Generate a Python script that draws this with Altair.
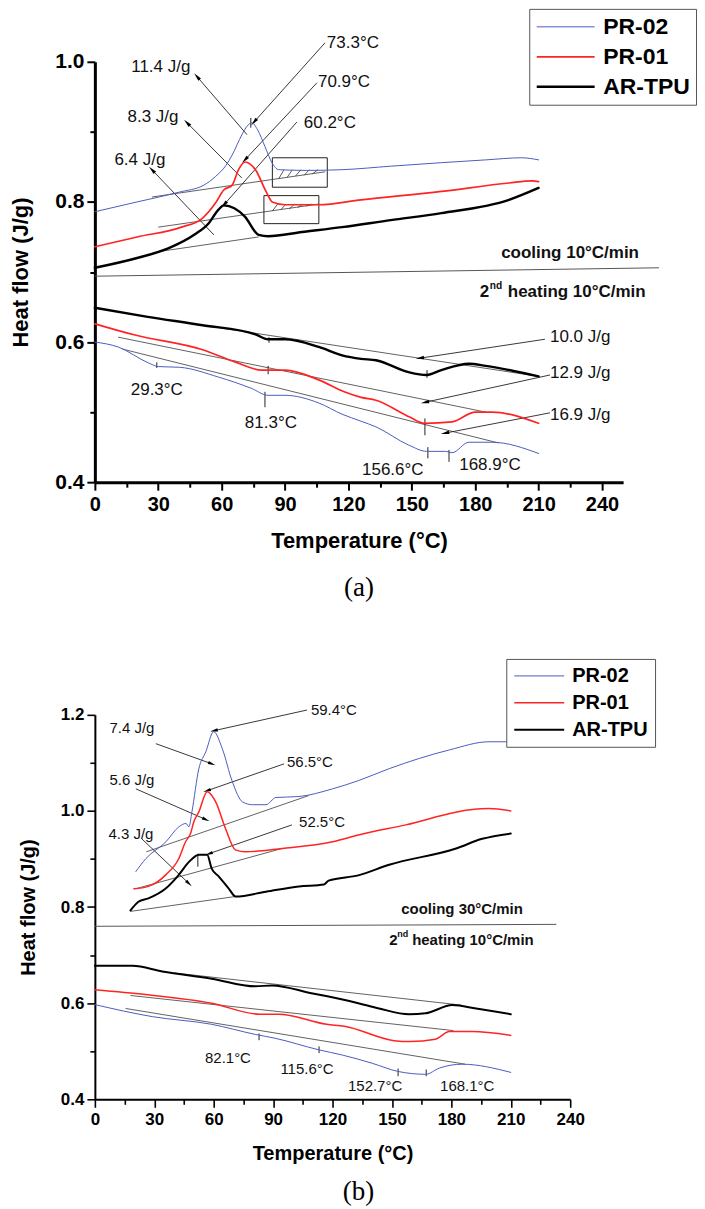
import math
import altair as alt
import pandas as pd

SERIES = ["PR-02", "PR-01", "AR-TPU"]
SERIES_COLORS = ["#4a5cc0", "#ff2424", "#000000"]

# ---------------- panel (a) ----------------
A_COOL_PR02_T = [0, 20, 40, 51.6, 57, 62, 65, 69.6, 72, 74.3, 77, 80.5, 83.8, 87, 100, 117, 140, 164, 185, 202, 210]
A_COOL_PR02_V = [0.786, 0.800, 0.814, 0.824, 0.836, 0.852, 0.867, 0.896, 0.908, 0.913, 0.903, 0.879, 0.856, 0.846, 0.845, 0.846, 0.851, 0.856, 0.860, 0.863, 0.860]
A_COOL_PR01_T = [0, 20, 41, 51, 57, 61, 65, 68, 71, 73.5, 76, 81, 84, 90, 106, 126, 164, 196, 207, 210]
A_COOL_PR01_V = [0.736, 0.750, 0.764, 0.777, 0.798, 0.817, 0.824, 0.846, 0.857, 0.854, 0.846, 0.815, 0.800, 0.796, 0.796, 0.803, 0.815, 0.827, 0.830, 0.829]
A_COOL_AR_T = [0, 20, 35, 47, 54, 58.5, 61, 66, 71, 77.5, 82, 98, 117, 140, 164, 196, 210]
A_COOL_AR_V = [0.706, 0.720, 0.734, 0.753, 0.770, 0.789, 0.795, 0.791, 0.779, 0.753, 0.751, 0.757, 0.764, 0.774, 0.784, 0.803, 0.820]
A_HEAT_PR02_T = [0, 11, 25.5, 30, 40, 58.5, 74, 82, 90, 106, 117, 126, 133, 148.5, 157, 166, 169, 177, 188, 210]
A_HEAT_PR02_V = [0.600, 0.593, 0.570, 0.565, 0.564, 0.550, 0.534, 0.524, 0.524, 0.513, 0.497, 0.487, 0.479, 0.453, 0.444, 0.444, 0.442, 0.457, 0.457, 0.441]
A_HEAT_PR01_T = [0, 19, 51, 66, 79, 90, 106, 118, 126, 133, 149, 156, 169, 180, 188, 210]
A_HEAT_PR01_V = [0.626, 0.610, 0.589, 0.572, 0.560, 0.560, 0.546, 0.529, 0.521, 0.517, 0.493, 0.484, 0.486, 0.500, 0.500, 0.484]
A_HEAT_AR_T = [0, 25, 51, 76, 82, 90, 106, 117, 126, 133, 148.5, 157, 164, 177, 185, 210]
A_HEAT_AR_V = [0.649, 0.636, 0.624, 0.611, 0.604, 0.604, 0.593, 0.581, 0.576, 0.574, 0.557, 0.553, 0.560, 0.569, 0.566, 0.551]

A_BASE_T1 = [27, 30, 30, 51, 11, 13]
A_BASE_V1 = [0.807, 0.764, 0.729, 0.624, 0.607, 0.590]
A_BASE_T2 = [109, 106, 77.5, 210, 185, 191]
A_BASE_V2 = [0.843, 0.797, 0.750, 0.551, 0.500, 0.456]

A_ARROW_T1 = [108.9, 105.1, 95.6, 72.0, 69.6, 56.3, 213.0, 215.4, 215.4]
A_ARROW_V1 = [1.027, 0.970, 0.914, 0.896, 0.834, 0.753, 0.604, 0.553, 0.499]
A_ARROW_T2 = [75.3, 71.0, 61.1, 48.3, 43.6, 27.0, 153.8, 156.2, 165.7]
A_ARROW_V2 = [0.914, 0.860, 0.796, 0.979, 0.913, 0.846, 0.577, 0.514, 0.470]

A_NOTE_C_TEXT = ["11.4 J/g", "8.3 J/g", "6.4 J/g", "29.3°C", "81.3°C", "156.6°C", "168.9°C"]
A_NOTE_C_T = [31.2, 27.5, 21.3, 29.3, 83.3, 141.0, 187.0]
A_NOTE_C_V = [0.993, 0.921, 0.860, 0.531, 0.484, 0.417, 0.424]
A_NOTE_L_TEXT = ["73.3°C", "70.9°C", "60.2°C", "10.0 J/g", "12.9 J/g", "16.9 J/g"]
A_NOTE_L_T = [109.8, 105.6, 98.9, 215.4, 215.4, 215.4]
A_NOTE_L_V = [1.027, 0.971, 0.913, 0.607, 0.556, 0.496]

A_TICK_T = [73.8, 29.3, 80.5, 82.4, 82.0, 157.6, 167.6, 157.2, 156.2]
A_TICK_V1 = [0.920, 0.571, 0.529, 0.607, 0.566, 0.450, 0.446, 0.560, 0.491]
A_TICK_V2 = [0.906, 0.563, 0.507, 0.599, 0.554, 0.434, 0.429, 0.549, 0.467]

A_BOX_T1 = [84, 80]
A_BOX_T2 = [110, 106]
A_BOX_V1 = [0.821, 0.769]
A_BOX_V2 = [0.863, 0.809]
A_HATCH_T1 = [87, 91, 95, 99, 103, 84, 88, 92, 96, 100]
A_HATCH_V1 = [0.833, 0.835, 0.837, 0.838, 0.840, 0.787, 0.789, 0.790, 0.792, 0.794]
A_HATCH_T2 = [89.5, 93.5, 97.5, 101.5, 105.5, 86.5, 90.5, 94.5, 98.5, 102.5]
A_HATCH_V2 = [0.846, 0.846, 0.846, 0.846, 0.846, 0.797, 0.797, 0.797, 0.797, 0.797]

A_SEP = [0, 0.694, 267, 0.706]
A_PHASE = {"cool": "cooling 10°C/min", "cool_t": 224.9, "cool_v": 0.727,
           "heat": "heating 10°C/min", "heat_t": 182.2, "heat_v": 0.671}

# ---------------- panel (b) ----------------
B_COOL_PR02_T = [20.7, 25.8, 35.9, 42.4, 46, 47.5, 49, 52.5, 56, 60, 64.3, 69.4, 74.5, 79.5, 86.4, 91.4, 103, 120, 133, 148.6, 179, 199, 210]
B_COOL_PR02_V = [0.874, 0.901, 0.936, 0.967, 0.974, 0.967, 0.998, 1.088, 1.123, 1.165, 1.130, 1.061, 1.019, 1.013, 1.013, 1.028, 1.030, 1.046, 1.063, 1.088, 1.127, 1.144, 1.144]
B_COOL_PR01_T = [19.7, 27, 35.8, 42.4, 45.8, 48.3, 50, 52.5, 56.7, 61, 66, 71, 76, 94.6, 120, 133, 157, 190.5, 199, 210]
B_COOL_PR01_V = [0.838, 0.843, 0.867, 0.901, 0.936, 0.953, 0.978, 0.998, 1.040, 1.019, 0.963, 0.919, 0.915, 0.922, 0.936, 0.950, 0.971, 1.003, 1.005, 1.000]
B_COOL_AR_T = [18, 22, 27, 35.6, 42.4, 47.5, 52.5, 56.7, 59, 62.7, 67.7, 71, 86.4, 103, 115.7, 118, 133, 148.6, 182.4, 195.6, 210]
B_COOL_AR_V = [0.793, 0.811, 0.818, 0.838, 0.867, 0.894, 0.909, 0.909, 0.880, 0.863, 0.838, 0.822, 0.832, 0.843, 0.847, 0.855, 0.866, 0.888, 0.922, 0.942, 0.953]
B_HEAT_PR02_T = [0, 29, 59, 81, 91, 113, 125, 140, 153, 167, 174, 185.5, 210]
B_HEAT_PR02_V = [0.597, 0.572, 0.556, 0.535, 0.527, 0.503, 0.492, 0.475, 0.458, 0.452, 0.465, 0.473, 0.456]
B_HEAT_PR01_T = [0, 25.6, 59, 83, 93, 117, 126, 151, 159, 172, 179, 190.6, 210]
B_HEAT_PR01_V = [0.628, 0.618, 0.600, 0.577, 0.577, 0.556, 0.552, 0.522, 0.520, 0.525, 0.541, 0.541, 0.533]
B_HEAT_AR_T = [0, 19, 34, 59, 81, 89.5, 110, 118, 133, 143.5, 158.7, 167, 180.5, 192.5, 210]
B_HEAT_AR_V = [0.678, 0.678, 0.666, 0.651, 0.635, 0.637, 0.620, 0.614, 0.600, 0.589, 0.577, 0.579, 0.596, 0.589, 0.577]

B_BASE_T1 = [26, 20.5, 18, 40, 18, 15.5]
B_BASE_V1 = [0.915, 0.838, 0.791, 0.663, 0.616, 0.589]
B_BASE_T2 = [108, 94.6, 71, 185, 181, 187]
B_BASE_V2 = [1.032, 0.922, 0.822, 0.596, 0.543, 0.473]

B_ARROW_T1 = [107.1, 95.5, 99.5, 30.8, 20.7, 23.7]
B_ARROW_V1 = [1.210, 1.098, 0.971, 1.140, 1.046, 0.942]
B_ARROW_T2 = [60.1, 56.6, 57.6, 59.1, 56.1, 47.5]
B_ARROW_V2 = [1.167, 1.042, 0.911, 1.098, 0.982, 0.849]

B_NOTE_C_TEXT = ["7.4 J/g", "5.6 J/g", "4.3 J/g", "82.1°C", "115.6°C", "152.7°C", "168.1°C"]
B_NOTE_C_T = [18.7, 18.7, 18.2, 67.2, 107.1, 141.5, 188.0]
B_NOTE_C_V = [1.173, 1.065, 0.953, 0.485, 0.462, 0.427, 0.427]
B_NOTE_L_TEXT = ["59.4°C", "56.5°C", "52.5°C"]
B_NOTE_L_T = [109.1, 97.0, 103.1]
B_NOTE_L_V = [1.210, 1.102, 0.978]

B_TICK_T = [52.0, 82.9, 113.2, 153.1, 167.3]
B_TICK_V1 = [0.911, 0.537, 0.510, 0.464, 0.462]
B_TICK_V2 = [0.884, 0.523, 0.496, 0.448, 0.448]

B_SEP = [0, 0.760, 233, 0.764]
B_PHASE = {"cool": "cooling 30°C/min", "cool_t": 185.4, "cool_v": 0.795,
           "heat": "heating 10°C/min", "heat_t": 148.6, "heat_v": 0.732}


def curve_frame(parts):
    rows = []
    for series, seg, ts, vs in parts:
        for t, v in zip(ts, vs):
            rows.append({"series": series, "seg": series + "-" + seg, "t": t, "v": v})
    return pd.DataFrame(rows)


def seg_frame(t1, v1, t2, v2):
    return pd.DataFrame({"t1": t1, "v1": v1, "t2": t2, "v2": v2})


ARROW_PATH = "M0,-1L0.42,1L-0.42,1Z"


def panel(p):
    xs = alt.Scale(domain=p["xdom"], nice=False, zero=False)
    ys = alt.Scale(domain=p["ydom"], nice=False, zero=False)
    kx = p["width"] / (p["xdom"][1] - p["xdom"][0])
    ky = p["height"] / (p["ydom"][1] - p["ydom"][0])
    xaxis = alt.Axis(
        title="Temperature (°C)", values=p["xvals"],
        labelExpr="datum.value % 30 === 0 ? datum.label : ''",
        tickSize={"condition": {"test": "datum.value % 30 === 0", "value": p["tick"]}, "value": p["minor"]},
        tickColor="black", tickWidth=p["tickw"], domainColor="black", domainWidth=p["domw"],
        labelFont="Liberation Sans", labelFontSize=p["xlab"], labelFontWeight="bold", labelColor="black",
        labelPadding=p["xlabpad"], labelOverlap=False, labelFlush=False, grid=False,
        titleFont="Liberation Sans", titleFontSize=p["titlesize"], titleFontWeight="bold",
        titleColor="black", titlePadding=p["xtitlepad"])
    yaxis = alt.Axis(
        title="Heat flow (J/g)", values=p["yvals"], format=".1f",
        labelExpr="round(datum.value * 10) % 2 === 0 ? format(datum.value, '.1f') : ''",
        tickSize={"condition": {"test": "round(datum.value * 10) % 2 === 0", "value": p["tick"]}, "value": p["minor"]},
        tickColor="black", tickWidth=p["tickw"], domainColor="black", domainWidth=p["domw"],
        labelFont="Liberation Sans", labelFontSize=p["ylab"], labelFontWeight="bold", labelColor="black",
        labelPadding=p["ylabpad"], labelOverlap=False, labelFlush=False, grid=False,
        titleFont="Liberation Sans", titleFontSize=p["titlesize"], titleFontWeight="bold",
        titleColor="black", titlePadding=p["ytitlepad"])

    def X(f):
        return alt.X(f + ":Q", scale=xs, axis=xaxis)

    def Y(f):
        return alt.Y(f + ":Q", scale=ys, axis=yaxis)

    leg = alt.Legend(
        title=None, orient="none", legendX=p["legx"], legendY=p["legy"], direction="vertical",
        symbolType="stroke", symbolSize=p["symsize"], labelFont="Liberation Sans",
        labelFontSize=p["legfont"], labelFontWeight="bold", labelColor="black",
        labelOffset=p["legoff"], padding=p["legpad"], strokeColor="#555555", fillColor="white",
        rowPadding=p["legrowpad"], clipHeight=p["legclip"])

    lines = alt.Chart(p["curves"]).mark_line(interpolate="monotone", strokeCap="round", strokeJoin="round").encode(
        x=X("t"), y=Y("v"),
        color=alt.Color("series:N", scale=alt.Scale(domain=SERIES, range=SERIES_COLORS), legend=leg),
        strokeWidth=alt.StrokeWidth("series:N", scale=alt.Scale(domain=SERIES, range=p["widths"]), legend=leg),
        detail="seg:N")

    thin = "#3a3a3a"
    base = alt.Chart(p["base"]).mark_rule(color=thin, strokeWidth=0.8).encode(
        x=X("t1"), y=Y("v1"), x2="t2:Q", y2="v2:Q")

    arr = p["arrows"].copy()
    arr["ang"] = [
        (math.degrees(math.atan2((b - a) * kx, (d - c) * ky)) + 360) % 360
        for a, b, c, d in zip(arr["t1"], arr["t2"], arr["v1"], arr["v2"])]
    shafts = alt.Chart(arr).mark_rule(color="#222222", strokeWidth=0.9).encode(
        x=X("t1"), y=Y("v1"), x2="t2:Q", y2="v2:Q")
    heads = alt.Chart(arr).mark_point(shape=ARROW_PATH, filled=True, color="black", opacity=1, size=p["headsize"]).encode(
        x=X("t2"), y=Y("v2"), angle=alt.Angle("ang:Q", scale=None))

    ticks = alt.Chart(p["ticks"]).mark_rule(color="#222222", strokeWidth=1).encode(
        x=X("t"), y=Y("v1"), y2="v2:Q")

    notes_c = alt.Chart(p["notes_c"]).mark_text(
        align="center", baseline="middle", font="Liberation Sans", fontSize=p["notesize"], color="#111111").encode(
        x=X("t"), y=Y("v"), text="txt:N")
    notes_l = alt.Chart(p["notes_l"]).mark_text(
        align="left", baseline="middle", font="Liberation Sans", fontSize=p["notesize"], color="#111111").encode(
        x=X("t"), y=Y("v"), text="txt:N")

    sep = alt.Chart(p["sep"]).mark_rule(color="#555555", strokeWidth=1).encode(
        x=X("t1"), y=Y("v1"), x2="t2:Q", y2="v2:Q")

    ph = p["phase"]
    pf = p["phasesize"]
    cool = alt.Chart(pd.DataFrame({"t": [ph["cool_t"]], "v": [ph["cool_v"]], "txt": [ph["cool"]]})).mark_text(
        align="center", baseline="middle", font="Liberation Sans", fontSize=pf, fontWeight="bold", color="#111111").encode(
        x=X("t"), y=Y("v"), text="txt:N")
    heat_df = pd.DataFrame({"t": [ph["heat_t"]], "v": [ph["heat_v"]]})
    two = alt.Chart(heat_df).mark_text(
        align="left", baseline="middle", font="Liberation Sans", fontSize=pf, fontWeight="bold", color="#111111",
        text="2").encode(x=X("t"), y=Y("v"))
    nd = alt.Chart(heat_df).mark_text(
        align="left", baseline="middle", font="Liberation Sans", fontSize=pf * 0.6, fontWeight="bold", color="#111111",
        text="nd", dx=p["nddx"], dy=-pf * 0.38).encode(x=X("t"), y=Y("v"))
    heat = alt.Chart(heat_df).mark_text(
        align="left", baseline="middle", font="Liberation Sans", fontSize=pf, fontWeight="bold", color="#111111",
        text=ph["heat"], dx=p["heatdx"]).encode(x=X("t"), y=Y("v"))

    layers = [base, sep, shafts, heads, ticks, lines, notes_c, notes_l, cool, two, nd, heat]
    if p.get("boxes") is not None:
        boxes = alt.Chart(p["boxes"]).mark_rect(fill=None, stroke="#222222", strokeWidth=1).encode(
            x=X("t1"), x2="t2:Q", y=Y("v1"), y2="v2:Q")
        hatch = alt.Chart(p["hatch"]).mark_rule(color="#333333", strokeWidth=0.8).encode(
            x=X("t1"), y=Y("v1"), x2="t2:Q", y2="v2:Q")
        layers = [boxes, hatch] + layers

    return alt.layer(*layers).properties(
        width=p["width"], height=p["height"],
        title=alt.TitleParams(p["label"], orient="bottom", font="Liberation Serif", fontSize=p["labsize"],
                              fontWeight="normal", color="black", offset=p["laboff"], dx=p["labdx"]))


A = dict(
    curves=curve_frame([
        ("PR-02", "cool", A_COOL_PR02_T, A_COOL_PR02_V), ("PR-01", "cool", A_COOL_PR01_T, A_COOL_PR01_V),
        ("AR-TPU", "cool", A_COOL_AR_T, A_COOL_AR_V), ("PR-02", "heat", A_HEAT_PR02_T, A_HEAT_PR02_V),
        ("PR-01", "heat", A_HEAT_PR01_T, A_HEAT_PR01_V), ("AR-TPU", "heat", A_HEAT_AR_T, A_HEAT_AR_V)]),
    base=seg_frame(A_BASE_T1, A_BASE_V1, A_BASE_T2, A_BASE_V2),
    arrows=seg_frame(A_ARROW_T1, A_ARROW_V1, A_ARROW_T2, A_ARROW_V2),
    notes_c=pd.DataFrame({"txt": A_NOTE_C_TEXT, "t": A_NOTE_C_T, "v": A_NOTE_C_V}),
    notes_l=pd.DataFrame({"txt": A_NOTE_L_TEXT, "t": A_NOTE_L_T, "v": A_NOTE_L_V}),
    ticks=pd.DataFrame({"t": A_TICK_T, "v1": A_TICK_V1, "v2": A_TICK_V2}),
    boxes=seg_frame(A_BOX_T1, A_BOX_V1, A_BOX_T2, A_BOX_V2),
    hatch=seg_frame(A_HATCH_T1, A_HATCH_V1, A_HATCH_T2, A_HATCH_V2),
    sep=seg_frame([A_SEP[0]], [A_SEP[1]], [A_SEP[2]], [A_SEP[3]]),
    phase=A_PHASE,
    xdom=[0, 250], ydom=[0.4, 1.0], xvals=list(range(0, 241, 15)),
    yvals=[0.4, 0.5, 0.6, 0.7, 0.8, 0.9, 1.0],
    width=529, height=421, widths=[1.0, 2.4, 3.3],
    tick=8, minor=5, tickw=2, domw=3, xlab=20, ylab=21, xlabpad=4, ylabpad=3, titlesize=22,
    xtitlepad=16, ytitlepad=22,
    legx=435, legy=-53, symsize=3364, legfont=23, legoff=7, legpad=6, legrowpad=6, legclip=24,
    headsize=70, notesize=17, phasesize=17, nddx=10, heatdx=28,
    label="(a)", labsize=27, laboff=24, labdx=0,
)

B = dict(
    curves=curve_frame([
        ("PR-02", "cool", B_COOL_PR02_T, B_COOL_PR02_V), ("PR-01", "cool", B_COOL_PR01_T, B_COOL_PR01_V),
        ("AR-TPU", "cool", B_COOL_AR_T, B_COOL_AR_V), ("PR-02", "heat", B_HEAT_PR02_T, B_HEAT_PR02_V),
        ("PR-01", "heat", B_HEAT_PR01_T, B_HEAT_PR01_V), ("AR-TPU", "heat", B_HEAT_AR_T, B_HEAT_AR_V)]),
    base=seg_frame(B_BASE_T1, B_BASE_V1, B_BASE_T2, B_BASE_V2),
    arrows=seg_frame(B_ARROW_T1, B_ARROW_V1, B_ARROW_T2, B_ARROW_V2),
    notes_c=pd.DataFrame({"txt": B_NOTE_C_TEXT, "t": B_NOTE_C_T, "v": B_NOTE_C_V}),
    notes_l=pd.DataFrame({"txt": B_NOTE_L_TEXT, "t": B_NOTE_L_T, "v": B_NOTE_L_V}),
    ticks=pd.DataFrame({"t": B_TICK_T, "v1": B_TICK_V1, "v2": B_TICK_V2}),
    boxes=None, hatch=None,
    sep=seg_frame([B_SEP[0]], [B_SEP[1]], [B_SEP[2]], [B_SEP[3]]),
    phase=B_PHASE,
    xdom=[0, 240], ydom=[0.4, 1.2], xvals=list(range(0, 241, 15)),
    yvals=[0.4, 0.5, 0.6, 0.7, 0.8, 0.9, 1.0, 1.1, 1.2],
    width=476, height=385, widths=[1.0, 2.0, 2.8],
    tick=8, minor=5, tickw=1.6, domw=2, xlab=17, ylab=17, xlabpad=4, ylabpad=3, titlesize=20,
    xtitlepad=16, ytitlepad=22,
    legx=412, legy=-56, symsize=2500, legfont=20, legoff=7, legpad=7, legrowpad=7, legclip=20,
    headsize=60, notesize=15, phasesize=15, nddx=8, heatdx=23,
    label="(b)", labsize=27, laboff=16, labdx=26,
)

chart = alt.vconcat(panel(A), panel(B), spacing=57).resolve_scale(
    color="independent", strokeWidth="independent", x="independent", y="independent"
).resolve_legend(color="independent", strokeWidth="independent").properties(
    padding={"left": 1, "top": -1, "right": 0, "bottom": 0}, background="white"
).configure_view(stroke=None)

chart.save("out.html", embed_options={"renderer": "svg", "actions": False})
